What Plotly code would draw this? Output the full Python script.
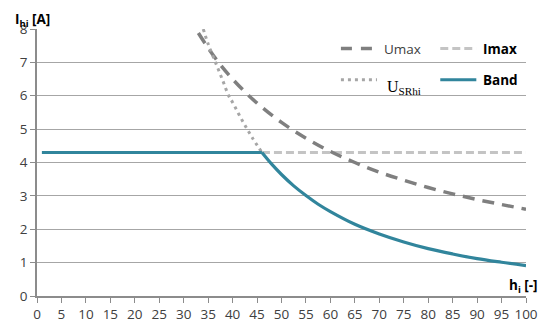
import plotly.graph_objects as go

# ---- data ----
umax_h = [33, 35, 37.5, 40, 42.5, 45, 50, 55, 60, 65, 70, 75, 80, 85, 90, 95, 100]
umax_v = [7.88, 7.43, 6.93, 6.5, 6.12, 5.78, 5.2, 4.73, 4.33, 4.0, 3.71, 3.47, 3.25, 3.06, 2.89, 2.74, 2.6]

imax_h = [46, 100]
imax_v = [4.3, 4.3]

usr_h = [34, 35, 36.5, 38, 39.2, 40, 42, 44, 46]
usr_v = [8.0, 7.55, 7.0, 6.45, 6.0, 5.8, 5.25, 4.75, 4.3]

band_flat_h = [1, 46]
band_flat_v = [4.3, 4.3]
band_curve_h = [46, 48, 50, 52.5, 55, 57.5, 60, 65, 70, 75, 80, 85, 90, 95, 100]
band_curve_v = [4.3, 3.95, 3.64, 3.3, 3.01, 2.75, 2.53, 2.15, 1.86, 1.62, 1.42, 1.26, 1.12, 1.01, 0.91]

x_ticks = list(range(0, 101, 5))
y_ticks = list(range(0, 9))

C_UMAX = "#7f7f7f"
C_IMAX = "#c4c4c4"
C_USR = "#a6a6a6"
C_BAND = "#31859c"

fig = go.Figure()
fig.add_trace(go.Scatter(x=imax_h, y=imax_v, mode="lines",
                         line=dict(color=C_IMAX, width=3, dash="8px,4px"), showlegend=False))
fig.add_trace(go.Scatter(x=umax_h, y=umax_v, mode="lines", line_shape="spline",
                         line=dict(color=C_UMAX, width=3.5, dash="12px,8px"), showlegend=False))
fig.add_trace(go.Scatter(x=usr_h, y=usr_v, mode="lines", line_shape="spline",
                         line=dict(color=C_USR, width=3, dash="3px,4px"), showlegend=False))
fig.add_trace(go.Scatter(x=band_flat_h, y=band_flat_v, mode="lines",
                         line=dict(color=C_BAND, width=3.2), showlegend=False))
fig.add_trace(go.Scatter(x=band_curve_h, y=band_curve_v, mode="lines", line_shape="spline",
                         line=dict(color=C_BAND, width=3.2), showlegend=False))

FONT = "Open Sans"
# page has an 8px body margin; figure is sized so the plot area lands at
# page x 29..531, y 28..301.5
fig.update_layout(
    width=542, height=327,
    margin=dict(l=21, r=19, t=20, b=33.5),
    paper_bgcolor="white", plot_bgcolor="white",
    font=dict(family=FONT, size=13, color="#404040"),
    xaxis=dict(range=[0, 100], tickvals=x_ticks, ticks="outside", ticklen=5,
               tickcolor="#8c8c8c", showgrid=False, showline=True,
               linecolor="#8c8c8c", linewidth=1.5, zeroline=False,
               tickfont=dict(size=13.5, color="#404040")),
    yaxis=dict(range=[0, 8], tickvals=y_ticks, ticks="outside", ticklen=5,
               tickcolor="#8c8c8c", showgrid=True, gridcolor="#a6a6a6", gridwidth=1,
               showline=True, linecolor="#8c8c8c", linewidth=1.5, zeroline=False,
               tickfont=dict(size=13.5, color="#404040")),
)

def px_x(p):
    return (p - 29) / 502.0

def px_y(p):
    return (301.5 - p) / 273.5

# legend samples
leg = [
    (341, 378, 48, C_UMAX, 3.5, "11px,9px"),
    (443, 480, 48, C_IMAX, 3, "8px,4px"),
    (341, 378, 80, C_USR, 3, "3px,4px"),
    (443, 480, 80, C_BAND, 3.2, "solid"),
]
for x0, x1, yy, c, w, d in leg:
    fig.add_shape(type="line", xref="paper", yref="paper",
                  x0=px_x(x0), x1=px_x(x1), y0=px_y(yy), y1=px_y(yy),
                  line=dict(color=c, width=w, dash=d))

fig.add_annotation(xref="paper", yref="paper", x=px_x(383), y=px_y(48), xanchor="left",
                   yanchor="middle", text="Umax", showarrow=False,
                   font=dict(family=FONT, size=13.5, color="#404040"))
fig.add_annotation(xref="paper", yref="paper", x=px_x(485), y=px_y(48), xanchor="left",
                   yanchor="middle", text="<b>Imax</b>", showarrow=False,
                   font=dict(family=FONT, size=13.5, color="#000000"))
fig.add_annotation(xref="paper", yref="paper", x=px_x(485), y=px_y(80), xanchor="left",
                   yanchor="middle", text="<b>Band</b>", showarrow=False,
                   font=dict(family=FONT, size=13.5, color="#000000"))
fig.add_annotation(xref="paper", yref="paper", x=px_x(386), y=px_y(88), xanchor="left",
                   yanchor="middle", text="U<sub>SRhi</sub>", showarrow=False,
                   font=dict(family="Liberation Serif", size=16, color="#000000"))

# axis titles
fig.add_annotation(xref="paper", yref="paper", x=px_x(5), y=px_y(8), xanchor="left",
                   yanchor="top", borderpad=0, text="<b>I<sub>hi</sub> [A]</b>", showarrow=False,
                   font=dict(family=FONT, size=13.5, color="#000000"))
fig.add_annotation(xref="paper", yref="paper", x=px_x(545), y=px_y(291), xanchor="right",
                   yanchor="middle", text="<b>h<sub>i</sub> [-]</b>", showarrow=False,
                   font=dict(family=FONT, size=13.5, color="#000000"))

fig.write_html("out.html")
